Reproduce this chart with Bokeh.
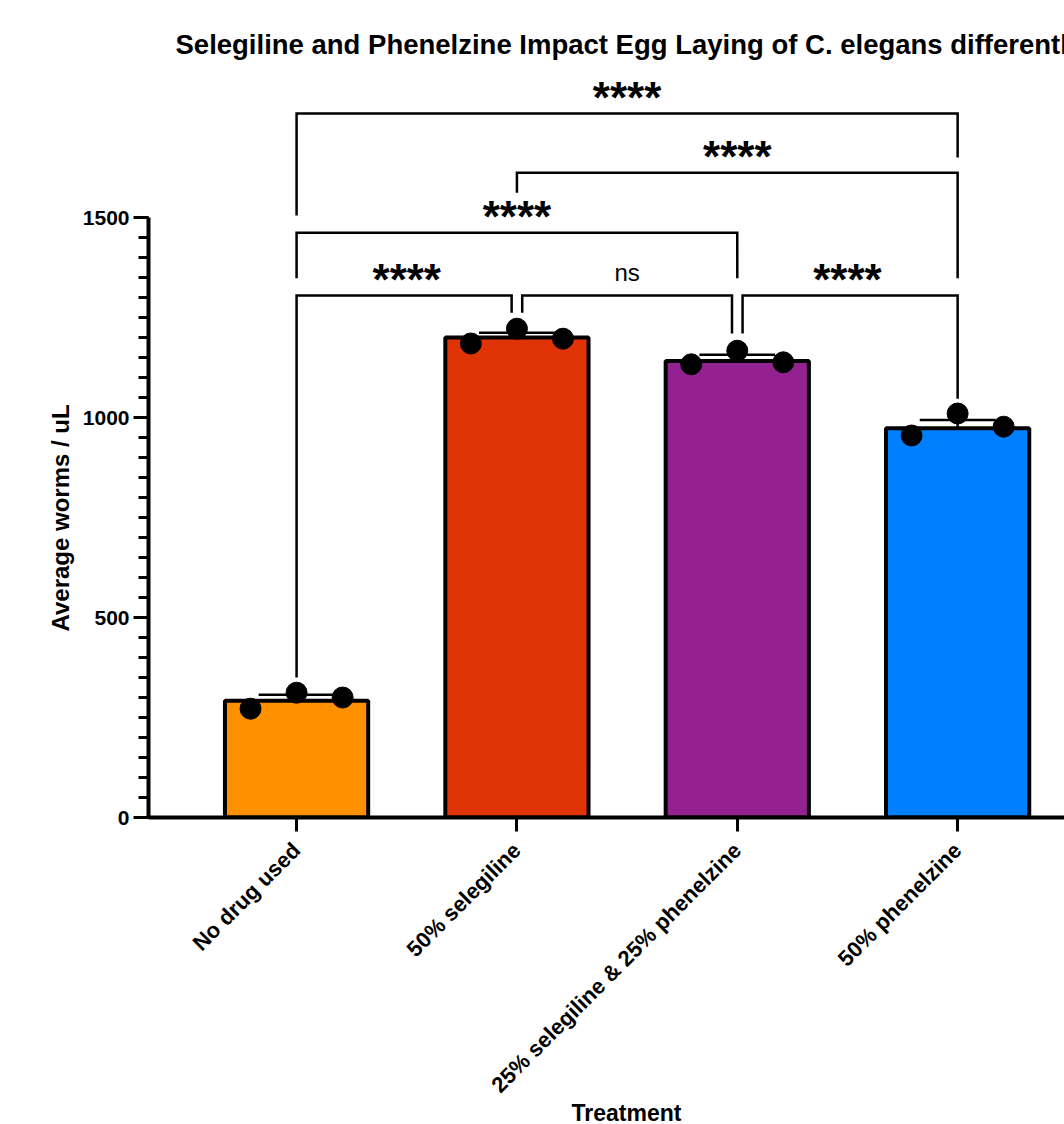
import math
from bokeh.plotting import figure
from bokeh.models import (Range1d, FixedTicker, LinearAxis, Title)
from bokeh.core.properties import value
from bokeh.embed import file_html
from bokeh.resources import INLINE

# ---------------- data ----------------
categories = ["No drug used", "50% selegiline", "25% selegiline & 25% phenelzine", "50% phenelzine"]
bar_means = [292, 1200, 1141, 973]
bar_upper = [307, 1212, 1157, 994]          # mean + error (upper whisker)
pts_no_drug = [272, 312, 300]
pts_sel50 = [1185, 1222, 1197]
pts_combo = [1133, 1167, 1138]
pts_phen50 = [955, 1010, 977]
bar_colors = ["#FF9100", "#E03407", "#93218F", "#0080FF"]

# significance comparisons (category index pairs)
cmp_left = [0, 1, 0, 0, 1, 2]
cmp_right = [3, 3, 2, 1, 2, 3]
cmp_height = [1760, 1612, 1462, 1305, 1305, 1305]
cmp_left_bottom = [1505, 1562, 1348, 350, 1262, 1210]
cmp_right_bottom = [1650, 1348, 1348, 1262, 1210, 1047]
cmp_label = ["****", "****", "****", "****", "ns", "****"]
y_ticks = [0, 500, 1000, 1500]

# ---------------- style/layout ----------------
FONT = "Liberation Sans"
SPREAD = [-0.209, 0.0, 0.209]
BAR_W = 0.65
CAP_HALF = 0.172
GAP = 0.024
left_shift = [0, 0, 0, 0, GAP, GAP]
right_shift = [0, 0, 0, -GAP, -GAP, 0]

p = figure(width=1064, height=1124, output_backend="svg", toolbar_location=None,
           x_range=Range1d(-0.672, 3.485), y_range=Range1d(0, 1870),
           min_border_left=148, min_border_right=0, min_border_top=69,
           min_border_bottom=307, x_axis_type=None, y_axis_type=None)
p.outline_line_color = None
p.grid.visible = False
p.background_fill_color = "white"

p.title.text = "Selegiline and Phenelzine Impact Egg Laying of C. elegans differently"
p.title.text_font = FONT
p.title.text_font_style = "bold"
p.title.text_font_size = "27.5px"
p.title.text_color = "black"
p.title.align = "left"
p.title.offset = 27
p.title.standoff = 19

xs = list(range(len(categories)))

# bars
p.vbar(x=xs, top=bar_means, bottom=0, width=BAR_W, fill_color=bar_colors,
       line_color="black", line_width=4)

# upper error bars
p.segment(x0=xs, y0=bar_means, x1=xs, y1=bar_upper, line_color="black", line_width=2.5)
p.segment(x0=[x - CAP_HALF for x in xs], y0=bar_upper, x1=[x + CAP_HALF for x in xs],
          y1=bar_upper, line_color="black", line_width=2.5)

# individual points
all_pts = [pts_no_drug, pts_sel50, pts_combo, pts_phen50]
px, py = [], []
for i, vals in enumerate(all_pts):
    for j, v in enumerate(vals):
        px.append(i + SPREAD[j])
        py.append(v)
p.scatter(x=px, y=py, size=21, marker="circle", fill_color="black", line_color="black")

# significance brackets
bxs, bys = [], []
for i in range(len(cmp_left)):
    xl = cmp_left[i] + left_shift[i]
    xr = cmp_right[i] + right_shift[i]
    bxs.append([xl, xl, xr, xr])
    bys.append([cmp_left_bottom[i], cmp_height[i], cmp_height[i], cmp_right_bottom[i]])
p.multi_line(xs=bxs, ys=bys, line_color="black", line_width=2.5, line_join="miter")

star_x = [(cmp_left[i] + cmp_right[i]) / 2 for i in range(len(cmp_left)) if cmp_label[i] != "ns"]
star_y = [cmp_height[i] for i in range(len(cmp_left)) if cmp_label[i] != "ns"]
star_t = [cmp_label[i] for i in range(len(cmp_left)) if cmp_label[i] != "ns"]
p.text(x=star_x, y=star_y, text=star_t, text_align="center", text_baseline="alphabetic",
       y_offset=-16, text_font=value(FONT), text_font_style="bold", text_font_size="44px",
       text_color="black")
ns_x = [(cmp_left[i] + cmp_right[i]) / 2 for i in range(len(cmp_left)) if cmp_label[i] == "ns"]
ns_y = [cmp_height[i] for i in range(len(cmp_left)) if cmp_label[i] == "ns"]
ns_t = [cmp_label[i] for i in range(len(cmp_left)) if cmp_label[i] == "ns"]
p.text(x=ns_x, y=ns_y, text=ns_t, text_align="center", text_baseline="alphabetic",
       y_offset=-23, text_font=value(FONT), text_font_style="normal", text_font_size="24px",
       text_color="black")

# axes
xaxis = LinearAxis(ticker=FixedTicker(ticks=xs),
                   major_label_overrides={i: c for i, c in enumerate(categories)})
xaxis.major_label_orientation = math.pi / 4
xaxis.major_label_text_font = FONT
xaxis.major_label_text_font_style = "bold"
xaxis.major_label_text_font_size = "22px"
xaxis.major_label_text_color = "black"
xaxis.major_label_standoff = 15
xaxis.axis_line_width = 4
xaxis.axis_line_color = "black"
xaxis.major_tick_line_width = 3
xaxis.major_tick_out = 14
xaxis.major_tick_in = 0
xaxis.minor_tick_line_color = None
p.add_layout(xaxis, "below")

yaxis = LinearAxis(ticker=FixedTicker(ticks=y_ticks, minor_ticks=list(range(0, 1501, 50))),
                   bounds=(0, 1500))
yaxis.major_label_text_font = FONT
yaxis.major_label_text_font_style = "bold"
yaxis.major_label_text_font_size = "21px"
yaxis.major_label_text_color = "black"
yaxis.major_label_standoff = 4
yaxis.axis_line_width = 4
yaxis.axis_line_color = "black"
yaxis.major_tick_line_width = 3
yaxis.major_tick_out = 15
yaxis.major_tick_in = 0
yaxis.minor_tick_line_width = 3
yaxis.minor_tick_out = 10
yaxis.minor_tick_in = 0
p.add_layout(yaxis, "left")

# axis titles
ylab = Title(text="Average worms / uL", align="left", offset=186, standoff=12,
             text_font=FONT, text_font_style="bold", text_font_size="24px",
             text_color="black")
p.add_layout(ylab, "left")
xlab = Title(text="Treatment", align="left", offset=423, standoff=-32,
             text_font=FONT, text_font_style="bold", text_font_size="23px",
             text_color="black")
p.add_layout(xlab, "below")

open("out.html", "w").write(file_html(p, INLINE))
